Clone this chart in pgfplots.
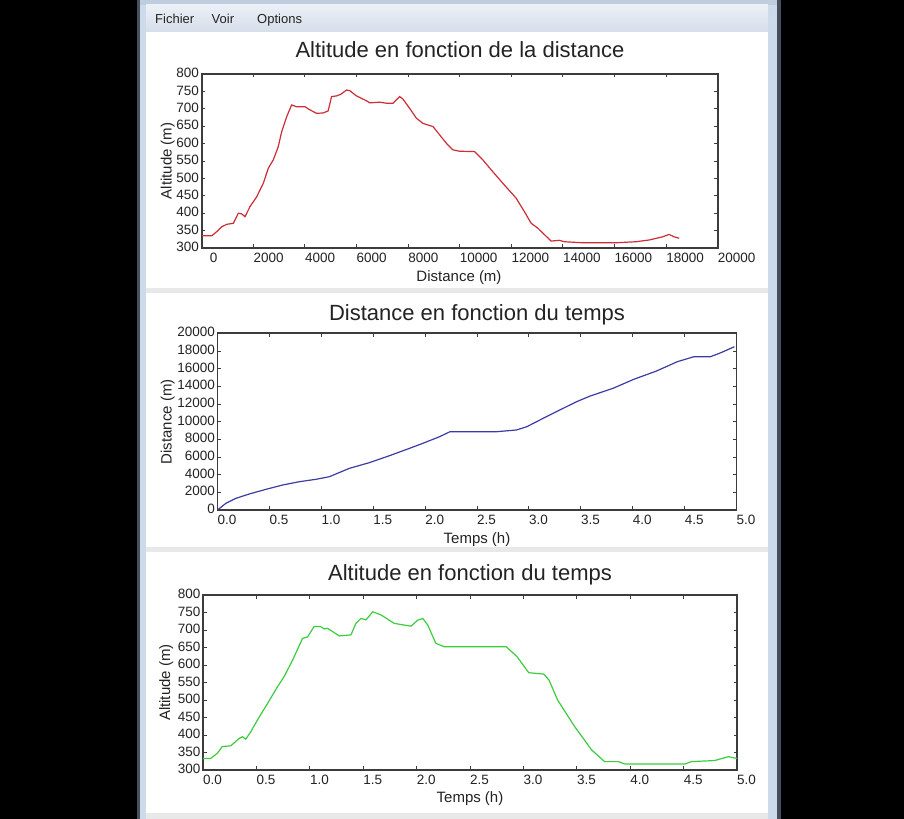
\documentclass[border=0pt]{standalone}
\usepackage{fontspec}
\setmainfont{Liberation Sans}
\usepackage{pgfplots}
\pgfplotsset{compat=1.18}
\definecolor{axisgray}{RGB}{60,60,60}
\definecolor{txt}{RGB}{35,35,35}
\definecolor{redline}{RGB}{205,45,55}
\definecolor{blueline}{RGB}{60,60,165}
\definecolor{greenline}{RGB}{60,205,60}
\definecolor{framedark}{RGB}{70,80,92}
\definecolor{framelight}{RGB}{205,218,234}
\definecolor{menutop}{RGB}{236,240,246}
\definecolor{menubot}{RGB}{214,222,234}
\definecolor{topband}{RGB}{190,206,224}
\definecolor{sep}{RGB}{232,232,232}

\pgfplotsset{
  myaxis/.style={
    scale only axis,
    anchor=south west,
    axis line style={axisgray, line width=1.6bp},
    tick style={axisgray, line width=0.9bp},
    major tick length=3.5bp,
    tick align=inside,
    tick label style={font=\fontsize{13.5bp}{15bp}\selectfont, text=txt},
    /pgf/number format/assume math mode=true,
    /pgf/number format/1000 sep={},
    scaled ticks=false,
    xticklabel style={anchor=north west, inner sep=0pt, yshift=-5bp},
    yticklabel style={anchor=east, inner sep=0pt, xshift=-2.5bp, yshift=1bp},
    clip=true,
  },
  timeaxis/.style={
    xmin=0, xmax=5, xtick={0,0.5,...,5},
    xticklabel style={/pgf/number format/fixed, /pgf/number format/fixed zerofill, /pgf/number format/precision=1},
  }
}

\begin{document}
\begin{tikzpicture}
\path[use as bounding box] (0,0) rectangle (904bp,819bp);
% background and window
\fill[black] (0,0) rectangle (904bp,819bp);
\fill[framedark] (137bp,0) rectangle (781bp,819bp);
\fill[framelight] (140bp,0) rectangle (777bp,819bp);
\fill[white] (146bp,0) rectangle (768bp,819bp);
\fill[topband] (140bp,814bp) rectangle (777bp,819bp);
\shade[top color=menutop, bottom color=menubot] (146bp,787bp) rectangle (768bp,814bp);
\fill[sep] (146bp,526bp) rectangle (768bp,531bp);
\fill[sep] (146bp,267bp) rectangle (768bp,272bp);
\fill[sep] (146bp,0bp) rectangle (768bp,6bp);
% menu
\begin{scope}[every node/.style={anchor=base west, inner sep=0pt, font=\fontsize{13bp}{15bp}\selectfont, text=txt}]
\node at (155bp,795bp) {Fichier};
\node at (211.5bp,795bp) {Voir};
\node at (257bp,795bp) {Options};
\end{scope}

% ---------- Plot 1 ----------
\begin{axis}[myaxis, at={(201.7bp,571bp)}, width=516bp, height=174bp,
  xmin=0, xmax=20000, ymin=300, ymax=800,
  xtick={0,2000,...,20000}, ytick={300,350,...,800},
  xticklabels={\hspace*{8bp}0,2000,4000,6000,8000,10000,12000,14000,16000,18000,20000}]
\addplot[redline, line width=1.2bp] coordinates {
(0,335) (390,335) (584,347) (777,361) (971,368) (1227,371) (1420,400) (1550,398)
(1679,390) (1872,419) (2131,447) (2388,486) (2580,529) (2774,553) (2967,591)
(3099,634) (3292,677) (3485,711) (3679,706) (4000,706) (4193,697) (4453,687)
(4708,688) (4902,694) (5033,735) (5226,737) (5400,742) (5613,754) (5741,752)
(6000,737) (6387,723) (6514,717) (6901,719) (7160,716) (7416,716) (7675,735)
(7800,728) (8062,701) (8321,673) (8577,658) (8964,649) (9222,625) (9482,601)
(9737,582) (9996,578) (10576,577) (10898,553) (11285,519) (11671,486) (12190,443)
(12511,404) (12770,371) (13025,357) (13543,320) (13864,322) (14058,318) (14767,315)
(16058,315) (16832,318) (17346,323) (17861,332) (18119,339) (18313,332) (18506,328)
};
\end{axis}

% ---------- Plot 2 ----------
\begin{axis}[myaxis, timeaxis, at={(217.5bp,309bp)}, width=519bp, height=176.7bp,
  ymin=0, ymax=20000, ytick={0,2000,...,20000}]
\addplot[blueline, line width=1.2bp] coordinates {
(0,0) (0.081,758) (0.178,1324) (0.306,1811) (0.467,2340) (0.628,2830) (0.789,3203)
(0.95,3475) (1.078,3769) (1.271,4716) (1.464,5360) (1.657,6147) (1.850,6980)
(1.979,7548) (2.140,8300) (2.24,8863) (2.69,8863) (2.88,9055) (2.98,9430)
(3.20,10752) (3.46,12260) (3.59,12900) (3.81,13770) (4.01,14790) (4.23,15733)
(4.43,16786) (4.59,17352) (4.75,17352) (4.85,17805) (4.98,18484)
};
\end{axis}

% ---------- Plot 3 ----------
\begin{axis}[myaxis, timeaxis, at={(203bp,49bp)}, width=534bp, height=175bp,
  ymin=300, ymax=800, ytick={300,350,...,800}]
\addplot[greenline, line width=1.2bp] coordinates {
(0.0,333) (0.072,333) (0.135,348) (0.18,367) (0.26,369) (0.338,390) (0.37,395)
(0.40,388) (0.447,409) (0.51,443) (0.604,490) (0.698,538) (0.76,567) (0.839,614)
(0.932,676) (0.979,680) (1.04,710) (1.10,710) (1.135,703) (1.166,705) (1.276,683)
(1.385,686) (1.432,719) (1.479,733) (1.526,729) (1.589,752) (1.667,743) (1.79,719)
(1.886,714) (1.948,711) (2.01,728) (2.058,733) (2.105,714) (2.18,662) (2.26,652)
(2.84,652) (2.94,624) (3.05,578) (3.19,574) (3.24,557) (3.32,500) (3.48,424)
(3.64,357) (3.76,324) (3.89,324) (3.95,317) (4.51,317) (4.575,324) (4.79,327)
(4.92,338) (5.0,333)
};
\end{axis}

% titles and axis labels
\begin{scope}[every node/.style={text=txt, inner sep=0pt}]
\node[anchor=base, font=\fontsize{22bp}{26bp}\selectfont] at (460bp,761bp) {Altitude en fonction de la distance};
\node[anchor=base, font=\fontsize{22bp}{26bp}\selectfont] at (477bp,498.5bp) {Distance en fonction du temps};
\node[anchor=base, font=\fontsize{22bp}{26bp}\selectfont] at (470bp,238.3bp) {Altitude en fonction du temps};
\node[anchor=base, font=\fontsize{15bp}{17bp}\selectfont] at (459bp,537.6bp) {Distance (m)};
\node[anchor=base, font=\fontsize{15bp}{17bp}\selectfont] at (477bp,275.6bp) {Temps (h)};
\node[anchor=base, font=\fontsize{15bp}{17bp}\selectfont] at (470bp,16.6bp) {Temps (h)};
\node[anchor=base, rotate=90, font=\fontsize{15bp}{17bp}\selectfont] at (171.7bp,658bp) {Altitude (m)};
\node[anchor=base, rotate=90, font=\fontsize{15bp}{17bp}\selectfont] at (171.7bp,397.3bp) {Distance (m)};
\node[anchor=base, rotate=90, font=\fontsize{15bp}{17bp}\selectfont] at (170bp,136.5bp) {Altitude (m)};
\end{scope}
\end{tikzpicture}
\end{document}
